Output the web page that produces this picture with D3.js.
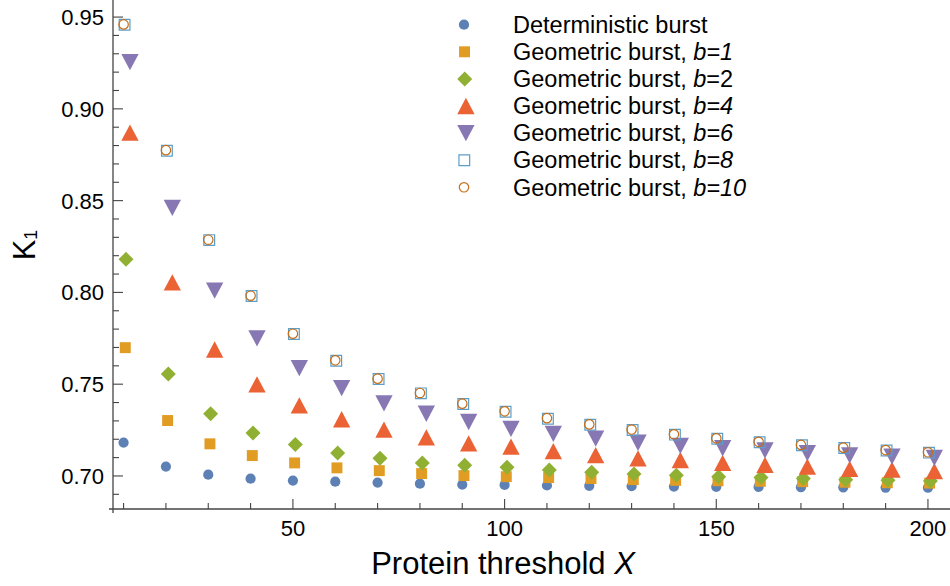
<!DOCTYPE html>
<html>
<head>
<meta charset="utf-8">
<script src="https://cdn.jsdelivr.net/npm/d3@7"></script>
<style>
  body { margin: 0; background: #fff; }
  svg { display: block; font-family: "Liberation Sans", Arial, sans-serif; }
</style>
</head>
<body>
<div id="chart"></div>
<script>
// protein threshold X
var thresholds = [10, 20, 30, 40, 50, 60, 70, 80, 90, 100, 110, 120, 130, 140, 150, 160, 170, 180, 190, 200];

// K1 values
var deterministic = [0.7182, 0.7051, 0.7007, 0.6985, 0.6975, 0.6969, 0.6964, 0.6958, 0.6953, 0.6951, 0.6948, 0.6946, 0.6944, 0.6942, 0.6941, 0.6940, 0.6939, 0.6938, 0.6937, 0.6936];
var geomB1 = [0.7699, 0.7302, 0.7175, 0.7111, 0.7071, 0.7044, 0.7029, 0.7013, 0.7002, 0.6996, 0.6991, 0.6986, 0.6980, 0.6976, 0.6974, 0.6971, 0.6969, 0.6966, 0.6963, 0.6961];
var geomB2 = [0.8180, 0.7556, 0.7339, 0.7234, 0.7171, 0.7125, 0.7096, 0.7071, 0.7058, 0.7047, 0.7032, 0.7020, 0.7010, 0.7004, 0.6996, 0.6992, 0.6986, 0.6980, 0.6976, 0.6972];
var geomB4 = [0.8871, 0.8055, 0.7689, 0.7499, 0.7385, 0.7309, 0.7253, 0.7210, 0.7178, 0.7160, 0.7135, 0.7114, 0.7096, 0.7087, 0.7071, 0.7060, 0.7051, 0.7039, 0.7034, 0.7026];
var geomB6 = [0.9255, 0.8461, 0.8010, 0.7750, 0.7587, 0.7478, 0.7396, 0.7339, 0.7294, 0.7256, 0.7229, 0.7203, 0.7181, 0.7164, 0.7151, 0.7139, 0.7124, 0.7112, 0.7105, 0.7099];
var geomB8 = [0.9458, 0.8772, 0.8285, 0.7980, 0.7773, 0.7628, 0.7528, 0.7450, 0.7392, 0.7350, 0.7312, 0.7279, 0.7250, 0.7225, 0.7203, 0.7184, 0.7167, 0.7152, 0.7139, 0.7127];
var geomB10 = [0.9460, 0.8775, 0.8287, 0.7982, 0.7775, 0.7630, 0.7530, 0.7452, 0.7394, 0.7352, 0.7315, 0.7281, 0.7253, 0.7227, 0.7205, 0.7186, 0.7169, 0.7154, 0.7141, 0.7129];

var xMajorTicks = [50, 100, 150, 200];
var yMajorTicks = [0.70, 0.75, 0.80, 0.85, 0.90, 0.95];

// legend: plain part, then the italic/upright pieces
var legendLabels = [
  [["Deterministic burst", false]],
  [["Geometric burst, ", false], ["b", true], ["=1", true]],
  [["Geometric burst, ", false], ["b", true], ["=2", false]],
  [["Geometric burst, ", false], ["b", true], ["=4", true]],
  [["Geometric burst, ", false], ["b", true], ["=6", true]],
  [["Geometric burst, ", false], ["b", true], ["=8", true]],
  [["Geometric burst, ", false], ["b", true], ["=10", true]]
];

var width = 950, height = 586;

// custom marker shapes, centred on their bounding box
var triUp = { draw: function (p, size) {
  var w = Math.sqrt(size), h = w * 0.94;
  p.moveTo(0, -h / 2); p.lineTo(w / 2, h / 2); p.lineTo(-w / 2, h / 2); p.closePath();
}};
var triDown = { draw: function (p, size) {
  var w = Math.sqrt(size), h = w * 0.94;
  p.moveTo(0, h / 2); p.lineTo(w / 2, -h / 2); p.lineTo(-w / 2, -h / 2); p.closePath();
}};
var diamond = { draw: function (p, size) {
  var r = Math.sqrt(size) / 2;
  p.moveTo(0, -r); p.lineTo(r, 0); p.lineTo(0, r); p.lineTo(-r, 0); p.closePath();
}};

var series = [
  { values: deterministic, type: d3.symbolCircle, size: 82, fill: "#5E81B5", stroke: "none", dx: 0 },
  { values: geomB1, type: d3.symbolSquare, size: 120, fill: "#E19C24", stroke: "none", dx: 1.7 },
  { values: geomB2, type: diamond, size: 225, fill: "#8FB032", stroke: "none", dx: 2.4 },
  { values: geomB4, type: triUp, size: 300, fill: "#EB6235", stroke: "none", dx: 6.4 },
  { values: geomB6, type: triDown, size: 300, fill: "#8778B3", stroke: "none", dx: 6.4 },
  { values: geomB8, type: d3.symbolSquare, size: 115, fill: "none", stroke: "#5D9EC7", dx: 1 },
  { values: geomB10, type: d3.symbolCircle, size: 70, fill: "none", stroke: "#C56E1A", dx: 0 }
];

var svg = d3.select("#chart").append("svg")
  .attr("width", width)
  .attr("height", height);

var x = d3.scaleLinear().domain([7.5, 204.5]).range([113, 947]);
var y = d3.scaleLinear().domain([0.682, 0.9593]).range([509, 0]);

var axisColor = "#444";

// x axis
var xAxis = svg.append("g").attr("transform", "translate(0,509)");
xAxis.append("line")
  .attr("x1", 109).attr("x2", width)
  .attr("stroke", axisColor).attr("stroke-width", 1.3);
xAxis.selectAll(".tk").data(thresholds).enter().append("line")
  .attr("x1", function (d) { return x(d); })
  .attr("x2", function (d) { return x(d); })
  .attr("y1", 0)
  .attr("y2", function (d) { return xMajorTicks.indexOf(d) >= 0 ? -10 : -6; })
  .attr("stroke", axisColor).attr("stroke-width", 1.1);
xAxis.selectAll(".lbl").data(xMajorTicks).enter().append("text")
  .attr("x", function (d) { return x(d); })
  .attr("y", 27)
  .attr("text-anchor", "middle")
  .attr("font-size", 22)
  .text(function (d) { return d; });

// y axis
var yMinor = d3.range(69, 96).map(function (k) { return k / 100; });
var yAxis = svg.append("g").attr("transform", "translate(113,0)");
yAxis.append("line")
  .attr("y1", 0).attr("y2", 513)
  .attr("stroke", axisColor).attr("stroke-width", 1.3);
yAxis.selectAll(".tk").data(yMinor).enter().append("line")
  .attr("y1", function (d) { return y(d); })
  .attr("y2", function (d) { return y(d); })
  .attr("x1", 0)
  .attr("x2", function (d) { return Math.round(d * 100) % 5 === 0 ? 10 : 6; })
  .attr("stroke", axisColor).attr("stroke-width", 1.1);
yAxis.selectAll(".lbl").data(yMajorTicks).enter().append("text")
  .attr("x", -9)
  .attr("y", function (d) { return y(d); })
  .attr("dy", "0.36em")
  .attr("text-anchor", "end")
  .attr("font-size", 22)
  .text(function (d) { return d3.format(".2f")(d); });

// axis titles
var xt = svg.append("text")
  .attr("x", 503).attr("y", 574)
  .attr("text-anchor", "middle")
  .attr("font-size", 31);
xt.append("tspan").text("Protein threshold ");
xt.append("tspan").attr("font-style", "italic").text("X");

var yt = svg.append("text")
  .attr("transform", "translate(35,245) rotate(-90)")
  .attr("text-anchor", "middle")
  .attr("font-size", 31);
yt.append("tspan").text("K");
yt.append("tspan").attr("font-size", 18).attr("dy", 2).text("1");

// points
var symbol = d3.symbol();
series.forEach(function (s) {
  svg.append("g").selectAll("path").data(s.values).enter().append("path")
    .attr("transform", function (d, i) {
      return "translate(" + (x(thresholds[i]) + s.dx) + "," + y(d) + ")";
    })
    .attr("d", symbol.type(s.type).size(s.size)())
    .attr("fill", s.fill)
    .attr("stroke", s.stroke)
    .attr("stroke-width", s.stroke === "none" ? 0 : 1.2);
});

// legend
var legend = svg.append("g");
series.forEach(function (s, i) {
  var ly = 24.7 + i * 27.1;
  legend.append("path")
    .attr("transform", "translate(" + (464 + s.dx * 0.3) + "," + ly + ")")
    .attr("d", d3.symbol().type(s.type).size(s.size)())
    .attr("fill", s.fill)
    .attr("stroke", s.stroke)
    .attr("stroke-width", s.stroke === "none" ? 0 : 1.2);
  var t = legend.append("text")
    .attr("x", 513).attr("y", ly + 8.2)
    .attr("font-size", 23.5);
  legendLabels[i].forEach(function (part) {
    t.append("tspan")
      .attr("font-style", part[1] ? "italic" : null)
      .text(part[0]);
  });
});
</script>
</body>
</html>
